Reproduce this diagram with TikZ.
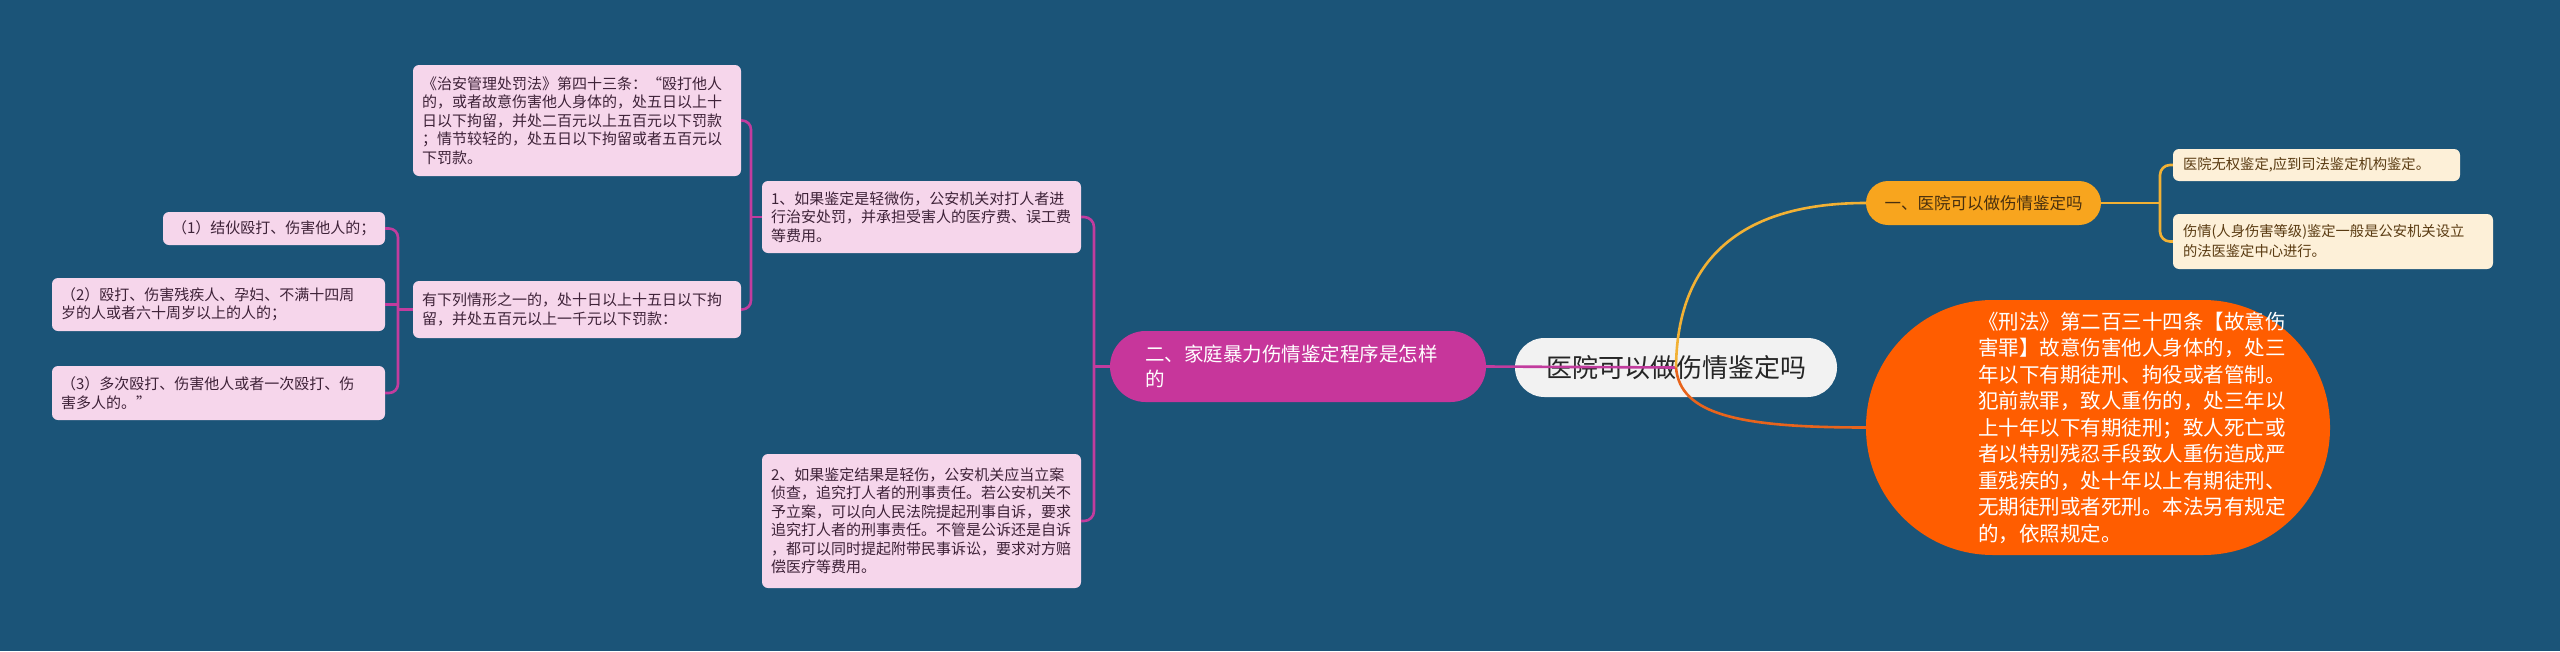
\documentclass[tikz,border=0pt]{standalone}
\usepackage{fontspec}
\setmainfont{Noto Sans CJK SC}
\usetikzlibrary{positioning}
\usetikzlibrary{calc}

\definecolor{bgblue}{HTML}{1B5478}
\definecolor{rootfill}{HTML}{F2F2F2}
\definecolor{magfill}{HTML}{C7369B}
\definecolor{magline}{HTML}{C23C9E}
\definecolor{pinkfill}{HTML}{F6D6EB}
\definecolor{pinktext}{HTML}{3E2238}
\definecolor{yelfill}{HTML}{F8A51E}
\definecolor{yelline}{HTML}{F2B134}
\definecolor{creamfill}{HTML}{FDF0D8}
\definecolor{browntext}{HTML}{5A3B12}
\definecolor{orafill}{HTML}{FF5D00}
\definecolor{oraline}{HTML}{E8641C}

\tikzset{
  pinkbox/.style={rounded corners=6pt, fill=pinkfill, text=pinktext, inner xsep=9pt, inner ysep=5pt,
    align=left, font=\fontsize{15}{18.5}\selectfont},
  creambox/.style={rounded corners=6pt, fill=creamfill, text=browntext, inner xsep=10pt, inner ysep=5pt,
    align=left, font=\fontsize{14.3}{20}\selectfont},
  mline/.style={draw=magline, line width=2.6pt},
  yline/.style={draw=yelline, line width=2.6pt},
  oline/.style={draw=oraline, line width=2.6pt},
}

\begin{document}
\begin{tikzpicture}[x=1pt, y=-1pt]
  \fill[bgblue] (0,0) rectangle (2560,651);
  \path[use as bounding box] (0,0) rectangle (2560,651);

  \node[rounded corners=29.5pt, fill=rootfill, text=black!85, minimum width=322pt, minimum height=59pt,
    font=\fontsize{26}{30}\selectfont] at (1676,367.5) (root) {医院可以做伤情鉴定吗};

%%%%%%%%%%%% left branch
  \node[rounded corners=35.5pt, fill=magfill, text=white, minimum height=71pt, inner xsep=35pt,
    text width=306pt, align=left, font=\fontsize{19.5}{25}\selectfont] at (1298,366.5) (family)
    {二、家庭暴力伤情鉴定程序是怎样\\的};

  \node[pinkbox, text width=301pt, minimum height=72pt] at (921.5,217) (pone)
    {1、如果鉴定是轻微伤，公安机关对打人者进\\行治安处罚，并承担受害人的医疗费、误工费\\等费用。};
  \node[pinkbox, text width=301pt, minimum height=134pt] at (921.5,521) (ptwo)
    {2、如果鉴定结果是轻伤，公安机关应当立案\\侦查，追究打人者的刑事责任。若公安机关不\\予立案，可以向人民法院提起刑事自诉，要求\\追究打人者的刑事责任。不管是公诉还是自诉\\，都可以同时提起附带民事诉讼，要求对方赔\\偿医疗等费用。};

  \node[pinkbox, text width=310pt, minimum height=111pt] at (577,120.5) (zhian)
    {《治安管理处罚法》第四十三条：“殴打他人\\的，或者故意伤害他人身体的，处五日以上十\\日以下拘留，并处二百元以上五百元以下罚款\\；情节较轻的，处五日以下拘留或者五百元以\\下罚款。};
  \node[pinkbox, text width=310pt, minimum height=57pt] at (577,309.5) (youxia)
    {有下列情形之一的，处十日以上十五日以下拘\\留，并处五百元以上一千元以下罚款：};

  \node[pinkbox, text width=204pt, minimum height=33pt] at (274,228.5) (itemone)
    {（1）结伙殴打、伤害他人的；};
  \node[pinkbox, text width=315pt, minimum height=53pt] at (218.5,304.5) (itemtwo)
    {（2）殴打、伤害残疾人、孕妇、不满十四周\\岁的人或者六十周岁以上的人的；};
  \node[pinkbox, text width=315pt, minimum height=54pt] at (218.5,393) (itemthree)
    {（3）多次殴打、伤害他人或者一次殴打、伤\\害多人的。”};

%%%%%%%%%%%% right branch
  \node[rounded corners=22pt, fill=yelfill, text=browntext!80!black, minimum width=235pt, minimum height=44pt,
    font=\fontsize{16.5}{20}\selectfont] at (1983.5,203) (hospital) {一、医院可以做伤情鉴定吗};

  \node[creambox, text width=267pt, minimum height=32pt] at (2316.5,165) (cone)
    {医院无权鉴定,应到司法鉴定机构鉴定。};
  \node[creambox, text width=300pt, minimum height=55pt] at (2333,241.5) (ctwo)
    {伤情(人身伤害等级)鉴定一般是公安机关设立\\的法医鉴定中心进行。};

  % text sits a little right of the middle
  \node[rounded corners=127pt, fill=orafill, text=white, inner xsep=0pt, text width=464pt, minimum height=255pt,
    align=left, font=\fontsize{20.5}{26.5}\selectfont] at (2098,427.5) (xingfa)
    {\leftskip=112pt《刑法》第二百三十四条【故意伤\\害罪】故意伤害他人身体的，处三\\年以下有期徒刑、拘役或者管制。\\犯前款罪，致人重伤的，处三年以\\上十年以下有期徒刑；致人死亡或\\者以特别残忍手段致人重伤造成严\\重残疾的，处十年以上有期徒刑、\\无期徒刑或者死刑。本法另有规定\\的，依照规定。\par};

%%%%%%%%%%%% connectors
  \coordinate (mspine) at (1094,366.5);
  \coordinate (lspine) at (751,217);
  \coordinate (ispine) at (398,309.5);
  \coordinate (yspine) at (2160,203);

  \draw[mline] (root.center) -- (family.east);
  \draw[mline] (family.west) -- (mspine);
  \draw[mline, rounded corners=10pt] (pone.east) -| (mspine) |- (ptwo.east);

  \draw[mline] (pone.west) -- (lspine);
  \draw[mline, rounded corners=9pt] (zhian.east) -| (lspine) |- (youxia.east);

  \draw[mline] (youxia.west) -- (ispine);
  \draw[mline, rounded corners=9pt] (itemone.east) -| (ispine) |- (itemthree.east);
  \draw[mline] (itemtwo.east) -- (itemtwo.east -| ispine);

  \draw[yline] (root.center) .. controls (1677,260) and (1740,203) .. (hospital.west);
  \draw[yline] (hospital.east) -- (yspine);
  \draw[yline, rounded corners=10pt] (cone.west) -| (yspine) |- (ctwo.west);

  \draw[oline] (root.center) .. controls (1680,415) and (1740,427.5) .. (xingfa.west);
\end{tikzpicture}
\end{document}
